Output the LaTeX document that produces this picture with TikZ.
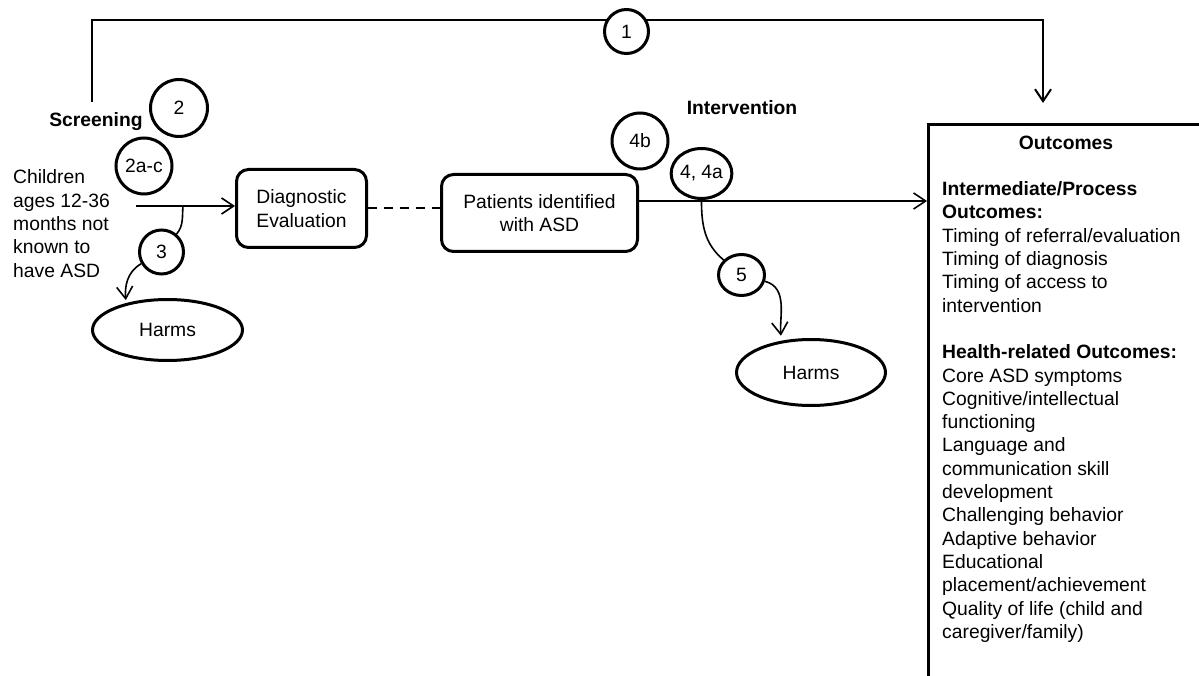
\documentclass[tikz,border=0pt]{standalone}
\usepackage{fontspec}
\setmainfont{Liberation Sans}
\usetikzlibrary{arrows.meta,shapes.geometric}
\tikzset{%
  ncirc/.style={draw,shape=circle,line width=3pt,fill=white,inner sep=0},
  nell/.style={draw,shape=ellipse,line width=3pt,fill=white,inner sep=0},
  rbox/.style={draw,rounded corners=12pt,line width=3pt,align=center,inner sep=0},
  hell/.style={draw,shape=ellipse,line width=3pt,inner sep=0},
  txt/.style={align=left,inner sep=0},
  cedge/.style={draw,line width=1.6pt},
  carrow/.style={cedge,-{Straight Barb[length=12pt,width=16pt]}}
}

\begin{document}
\begin{tikzpicture}[x=1pt,y=1pt,font=\fontsize{19.3}{23.3}\selectfont]
    \useasboundingbox (0,0) rectangle (1199,-676);
    \clip (0,0) rectangle (1199,-676);
    \path
      (13,-223.7) node (kids)[txt,anchor=west]{Children\\ages 12-36\\months not\\known to\\have ASD}
      (301.5,-208.5) node (diag)[rbox,minimum width=130pt,minimum height=78pt]{Diagnostic\\Evaluation}
      (539.5,-213) node (pat)[rbox,minimum width=196pt,minimum height=77pt]{Patients identified\\with ASD}
      (167.5,-330) node (h1)[hell,minimum width=150pt,minimum height=61pt]{Harms}
      (811,-372.5) node (h2)[hell,minimum width=149pt,minimum height=66pt]{Harms}
      (96,-126.7) node (scr)[anchor=base]{\textbf{Screening}}
      (742,-115) node (intv)[anchor=base]{\textbf{Intervention}}
      (927,-123) node (outc)[draw,line width=2.8pt,anchor=north west,minimum width=330pt,minimum height=600pt]{}
      (1066,-143) node (otit){\textbf{Outcomes}}
      (942,-412) node (obody)[txt,anchor=west]{\textbf{Intermediate/Process}\\\textbf{Outcomes:}\\Timing of referral/evaluation\\Timing of diagnosis\\Timing of access to\\intervention\\[23.3pt]\textbf{Health-related Outcomes:}\\Core ASD symptoms\\Cognitive/intellectual\\functioning\\Language and\\communication skill\\development\\Challenging behavior\\Adaptive behavior\\Educational\\placement/achievement\\Quality of life (child and\\caregiver/family)};
    \coordinate (tl) at (92,-102);
    \coordinate (tr) at (1043,-103);
    \coordinate (kids0) at (136,-206);
    \coordinate (j3) at (183,-206);
    \coordinate (j4) at (701.5,-201);
    \draw[carrow,line width=2pt] (tl) -- ++(0,82) -| (tr);
    \draw[carrow] (kids0) -- (kids0 -| diag.west);
    \draw[cedge,line width=2pt,dash pattern=on 9pt off 7pt] (diag.east) -- (diag.east -| pat.west);
    \draw[carrow] (j4 -| pat.east) -- (j4 -| outc.west);
    \path
      (626.5,-31.5) node (c1)[ncirc,minimum size=44pt]{1}
      (179,-108) node (c2)[ncirc,minimum size=57pt]{2}
      (144,-166) node (c2a)[ncirc,minimum size=56pt]{2a-c}
      (161.5,-252) node (c3)[ncirc,minimum size=44pt]{3}
      (640,-141) node (c4b)[ncirc,minimum size=56pt]{4b}
      (701.5,-173.5) node (c4)[nell,minimum width=58pt,minimum height=50pt]{4, 4a}
      (741.5,-275) node (c5)[nell,minimum width=46pt,minimum height=41pt]{5};
    \draw[cedge] (j3) to[out=-95,in=50] (c3);
    \draw[carrow,shorten >=3pt] (c3) to[out=210,in=95] (h1.147);
    \draw[cedge] (j4) to[out=-90,in=140] (c5);
    \draw[carrow,shorten >=5pt] (c5) to[out=-15,in=95] (h2.133);
  \end{tikzpicture}
\end{document}
